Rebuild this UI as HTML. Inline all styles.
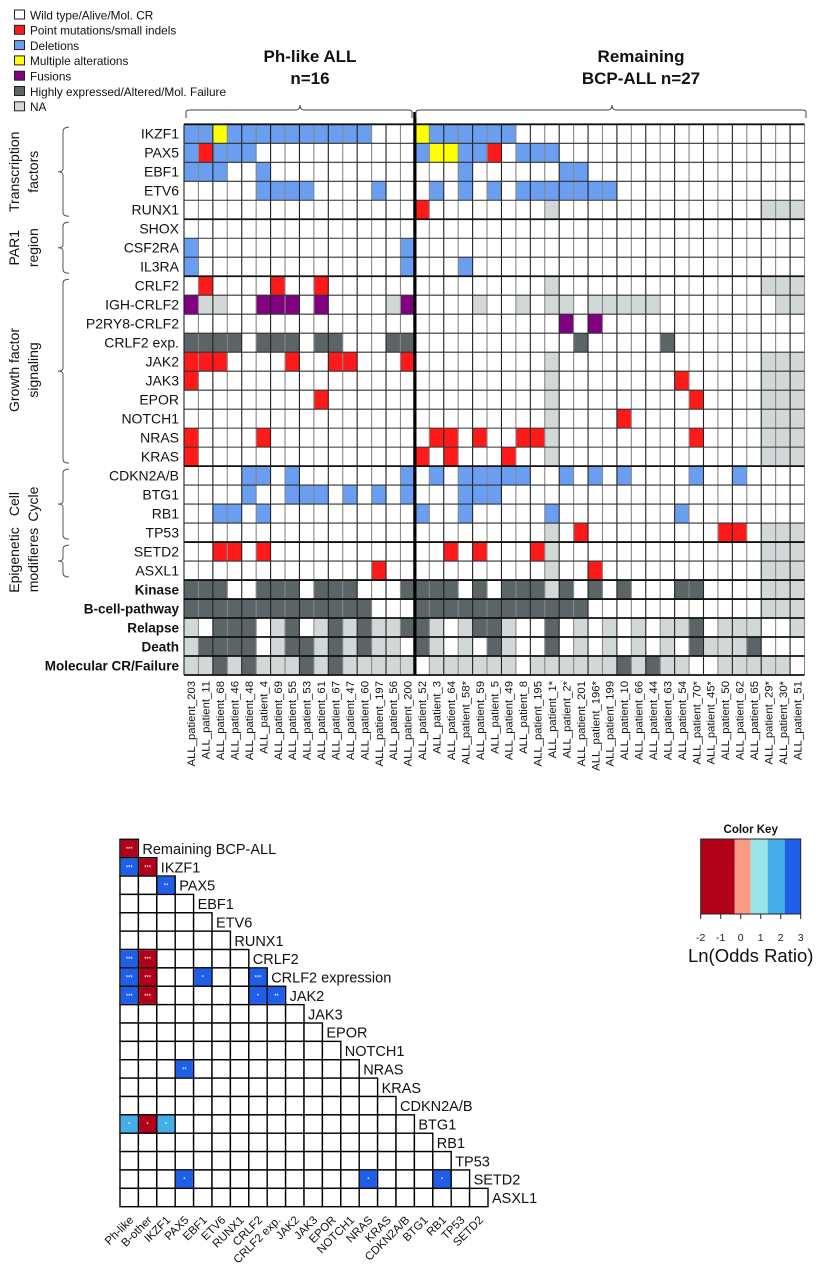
<!DOCTYPE html>
<html><head><meta charset="utf-8"><style>
html,body{margin:0;padding:0;background:#fff;}
svg{display:block;font-family:"Liberation Sans",Arial,sans-serif;}
</style></head><body>
<svg id="fig" width="819" height="1280" viewBox="0 0 819 1280" xmlns="http://www.w3.org/2000/svg"></svg>
<script>
// ---------- TOP HEATMAP DATA ----------
const geneRows = ["IKZF1","PAX5","EBF1","ETV6","RUNX1","SHOX","CSF2RA","IL3RA","CRLF2","IGH-CRLF2","P2RY8-CRLF2","CRLF2 exp.","JAK2","JAK3","EPOR","NOTCH1","NRAS","KRAS","CDKN2A/B","BTG1","RB1","TP53","SETD2","ASXL1","Kinase","B-cell-pathway","Relapse","Death","Molecular CR/Failure"];
const patientsPh = ["ALL_patient_203","ALL_patient_11","ALL_patient_68","ALL_patient_46","ALL_patient_48","ALL_patient_4","ALL_patient_69","ALL_patient_55","ALL_patient_53","ALL_patient_61","ALL_patient_67","ALL_patient_47","ALL_patient_60","ALL_patient_197","ALL_patient_56","ALL_patient_200"];
const patientsRem = ["ALL_patient_52","ALL_patient_3","ALL_patient_64","ALL_patient_58*","ALL_patient_59","ALL_patient_5","ALL_patient_49","ALL_patient_8","ALL_patient_195","ALL_patient_1*","ALL_patient_2*","ALL_patient_201","ALL_patient_196*","ALL_patient_199","ALL_patient_10","ALL_patient_66","ALL_patient_44","ALL_patient_63","ALL_patient_54","ALL_patient_70*","ALL_patient_45*","ALL_patient_50","ALL_patient_62","ALL_patient_65","ALL_patient_29*","ALL_patient_30*","ALL_patient_51"];
const statusPh = [
"BBYBBBBBBBBBBWWW","BRBBBWWWWWWWWWWW","BBBWWBWWWWWWWWWW","WWWWWBBBBWWWWBWW","WWWWWWWWWWWWWWWW",
"WWWWWWWWWWWWWWWW","BWWWWWWWWWWWWWWB","BWWWWWWWWWWWWWWB","WRWWWWRWWRWWWWWW","PLLWWPPPWPWWWWLP",
"WWWWWWWWWWWWWWWW","DDDDWDDDWDDWWWDD","RRRWWWWRWWRRWWWR","RWWWWWWWWWWWWWWW","WWWWWWWWWRWWWWWW",
"WWWWWWWWWWWWWWWW","RWWWWRWWWWWWWWWW","RWWWWWWWWWWWWWWW","WWWWBBWBWWWWWWWB","WWWWBWWBBBWBWBWB",
"WWBBWBWWWWWWWWWW","WWWWWWWWWWWWWWWW","WWRRWRWWWWWWWWWW","WWWWWWWWWWWWWRWW","DDDWWDDDWDDDWWWD",
"DDDDDDDDDDDDDWWW","LWDDDWLDWLDLDLLD","LDDDDWLDDLDLDLLW","LLDLDLLLDLDLLLLL"];
const statusRem = [
"YBBBBBBWWWWWWWWWWWWWWWWWWWW","BYYBBRWBBBWWWWWWWWWWWWWWWWW","WWWBWWWWWWBBWWWWWWWWWWWWWWW","WBWBWBWBBBBBBBWWWWWWWWWWWWW","RWWWWWWWWLWWWWWWWWWWWWWWLLL",
"WWWWWWWWWWWWWWWWWWWWWWWWWWW","WWWWWWWWWWWWWWWWWWWWWWWWWWW","WWWBWWWWWWWWWWWWWWWWWWWWWWW","WWWWWWWWWLWWWWWWWWWWWWWWLLL","WWWWLWWLWLLWLLLLLWWWWWWWWLL",
"WWWWWWWWWWPWPWWWWWWWWWWWWWW","WWWWWWWWWWWDWWWWWDWWWWWWWWW","WWWWWWWWWLWWWWWWWWWWWWWWLLL","WWWWWWWWWLWWWWWWWWRWWWWWLLL","WWWWWWWWWLWWWWWWWWWRWWWWLLL",
"WWWWWWWWWLWWWWRWWWWWWWWWLLL","WRRWRWWRRLWWWWWWWWWRWWWWLLL","RWRWWWRWWLWWWWWWWWWWWWWWLLL","WBWBBBBBWWBWBWBWWWWBWWBWWWW","WWWBBBWWWWWWWWWWWWWWWWWWWWW",
"BWWBWWWWWBWWWWWWWWBWWWWWWWW","WWWWWWWWWLWRWWWWWWWWWRRWLLL","WWRWRWWWRLWWWWWWWWWWWWWWLLL","WWWWWWWWWLWWRWWWWWWWWWWWLLL","DDDWDWDDDLDWDWDWWWDDWWWWLLL",
"DDDDDDDDDDDDWWWWWWWWWWWWLLL","DLWLDDLWWDWLWLWLWLLDWLLLWWL","DLWLWDLWWDWLWLWLWLWDLLLDWWW","WLLLLLLWLLLLLLDLDLLWWLLLLLW"];
const statusColors = {W:"#ffffff",R:"#ff1a1a",B:"#6a9ef0",Y:"#ffff00",P:"#800080",D:"#5b6466",L:"#d2d8d8"};
const legendLabels = ["Wild type/Alive/Mol. CR","Point mutations/small indels","Deletions","Multiple alterations","Fusions","Highly expressed/Altered/Mol. Failure","NA"];
const legendKeys = ["W","R","B","Y","P","D","L"];
const groupNames = [["Transcription","factors"],["PAR1","region"],["Growth factor","signaling"],["Cell","Cycle"],["Epigenetic","modifieres"]];
const groupStart = [0,5,8,18,22];
const groupEnd = [4,7,17,21,23];

// ---------- ODDS-RATIO MATRIX DATA ----------
const orRows = ["Remaining BCP-ALL","IKZF1","PAX5","EBF1","ETV6","RUNX1","CRLF2","CRLF2 expression","JAK2","JAK3","EPOR","NOTCH1","NRAS","KRAS","CDKN2A/B","BTG1","RB1","TP53","SETD2","ASXL1"];
const orCols = ["Ph-like","B-other","IKZF1","PAX5","EBF1","ETV6","RUNX1","CRLF2","CRLF2 exp.","JAK2","JAK3","EPOR","NOTCH1","NRAS","KRAS","CDKN2A/B","BTG1","RB1","TP53","SETD2"];
const sigRow = [0,1,1,2,6,6,7,7,7,7,8,8,8,8,12,15,15,15,18,18,18];
const sigCol = [0,0,1,2,0,1,0,1,4,7,0,1,7,8,3,0,1,2,3,13,17];
const sigValue = [-1.6,2.6,-1.6,2.6,2.6,-1.6,2.6,-1.6,2.6,2.6,2.6,-1.6,2.6,2.6,2.6,1.6,-1.6,1.6,2.6,2.6,2.6];
const sigStars = ["***","***","***","**","***","***","***","***","*","***","***","***","*","**","**","*","*","*","*","*","*"];
const keyBreaks = [-2,-0.3,0.5,1.35,2.2,3];
const keyColors = ["#b0001a","#f99a85","#98e4ea","#45aee8","#1f5fe8"];
const keyTicks = ["-2","-1","0","1","2","3"];

const NS="http://www.w3.org/2000/svg";
const svg=document.getElementById('fig');
function mk(tag,attrs,parent){const e=document.createElementNS(NS,tag);for(const k in attrs)e.setAttribute(k,attrs[k]);(parent||svg).appendChild(e);return e;}

// ---- top heatmap scales
const X0=184, X1=804.5, Y0=124.3, Y1=675;
const nCols=patientsPh.length+patientsRem.length;
const cw=(X1-X0)/nCols, rh=(Y1-Y0)/geneRows.length;
const xCol=i=>X0+i*cw, yRow=r=>Y0+r*rh;

const hm=mk('g',{});


geneRows.forEach((g,r)=>{
  const s=statusPh[r]+statusRem[r];
  for(let c=0;c<nCols;c++){
    const rc=mk('rect',{x:xCol(c),y:yRow(r),width:cw,height:rh,fill:statusColors[s[c]]||"#fff",stroke:"none"},hm);
    
    
  }
});
// grid lines
for(let c=0;c<=nCols;c++){
  mk('line',{x1:xCol(c),x2:xCol(c),y1:Y0,y2:Y1,stroke:(c%2?"#888":"#222"),"stroke-width":1.1},hm);
}
const thick=[0,5,8,18,22,24,25,26,27,28,29];
for(let r=0;r<=geneRows.length;r++){
  mk('line',{x1:X0,x2:X1,y1:yRow(r),y2:yRow(r),stroke:thick.includes(r)?"#111":"#333","stroke-width":thick.includes(r)?1.8:1.1},hm);
}
mk('line',{x1:xCol(16),x2:xCol(16),y1:112,y2:Y1,stroke:"#000","stroke-width":3.2},hm);

// row labels
geneRows.forEach((g,r)=>{
  const bold=r>=24;
  const t=mk('text',{x:179,y:yRow(r)+rh/2+4.8,"text-anchor":"end","font-size":bold?13.5:14,"font-weight":bold?"bold":"normal",fill:"#111"});
  t.textContent=g;
  
  
});
// column labels
patientsPh.concat(patientsRem).forEach((p,c)=>{
  const cx=xCol(c)+cw/2+4;
  const t=mk('text',{x:0,y:0,transform:`translate(${cx},681) rotate(-90)`,"text-anchor":"end","font-size":11.3,fill:"#111"});
  t.textContent=p;
  
  
});
// group brackets & labels
groupNames.forEach((gn,i)=>{
  const ya=yRow(groupStart[i])+3, yb=yRow(groupEnd[i]+1)-3, ym=(ya+yb)/2;
  const p=mk('path',{d:`M69 ${ya} Q63 ${ya} 63 ${ya+4} L63 ${ym-3} Q63 ${ym} 58 ${ym} Q63 ${ym} 63 ${ym+3} L63 ${yb-4} Q63 ${yb} 69 ${yb}`,fill:"none",stroke:"#555","stroke-width":1});
  
  
  let cy=ym; if(i===4) cy=560; if(i===2) cy=370;
  const t=mk('text',{transform:`translate(19,${cy}) rotate(-90)`,"text-anchor":"middle","font-size":14,fill:"#111"});
  const t1=mk('tspan',{x:0,y:0},t); t1.textContent=gn[0];
  const t2=mk('tspan',{x:0,y:19},t); t2.textContent=gn[1];
  
  
});
// top braces
function brace(xa,xb,xm,y,name){
  const p=mk('path',{d:`M${xa} ${y+8} L${xa} ${y+2} Q${xa} ${y} ${xa+4} ${y} L${xm-4} ${y} Q${xm} ${y} ${xm} ${y-5} Q${xm} ${y} ${xm+4} ${y} L${xb-4} ${y} Q${xb} ${y} ${xb} ${y+2} L${xb} ${y+8}`,fill:"none",stroke:"#444","stroke-width":1});
  
  
}
brace(186,412,300,110,'ph-like-brace');
brace(416,806,612,110,'remaining-brace');
[["Ph-like ALL",310,62],["n=16",310,84],["Remaining",641,62],["BCP-ALL n=27",641,84]].forEach((a,i)=>{
  const t=mk('text',{x:a[1],y:a[2],"text-anchor":"middle","font-size":17,"font-weight":"bold",fill:"#111"});
  t.textContent=a[0];
  
  
});
// legend
const lg=mk('g',{});


legendLabels.forEach((l,i)=>{
  const y=15.3*i+15;
  const r=mk('rect',{x:14.5,y:y-5,width:10,height:9,fill:statusColors[legendKeys[i]],stroke:"#222","stroke-width":1},lg);
  
  
  const t=mk('text',{x:30,y:y+4.3,"font-size":11.8,fill:"#111"},lg);
  t.textContent=l;
  
  
});

// ---- odds ratio matrix
const MX=120, MY=839.3, mw=18.4, mh=18.37;
const mcx=c=>MX+c*mw, mry=r=>MY+r*mh;
function keyColor(v){for(let i=0;i<keyColors.length;i++){if(v<keyBreaks[i+1])return keyColors[i];}return keyColors[keyColors.length-1];}
const om=mk('g',{});


orRows.forEach((rn,r)=>{
  for(let c=0;c<=r;c++){
    const rc=mk('rect',{x:mcx(c),y:mry(r),width:mw,height:mh,fill:"#fff",stroke:"#000","stroke-width":1.4},om);
    
    
  }
  const t=mk('text',{x:mcx(r+1)+4,y:mry(r)+mh/2+5.5,"font-size":14.5,fill:"#111"},om);
  t.textContent=rn;
  
  
});
sigRow.forEach((r,i)=>{
  const c=sigCol[i];
  const rc=mk('rect',{x:mcx(c)+0.7,y:mry(r)+0.7,width:mw-1.4,height:mh-1.4,fill:keyColor(sigValue[i])},om);
  
  
  const t=mk('text',{x:mcx(c)+mw/2,y:mry(r)+mh/2+2.5,"text-anchor":"middle","font-size":6,fill:"#fff"},om);
  t.textContent=sigStars[i];
  
  
});
orCols.forEach((cn,c)=>{
  const t=mk('text',{transform:`translate(${mcx(c)+mw/2+5},${MY+orRows.length*mh+14}) rotate(-45)`,"text-anchor":"end","font-size":11.5,fill:"#111"},om);
  t.textContent=cn;
  
  
});

// ---- color key
const KX=700.7, KU=20, KY=839, KH=75;
const kx=v=>KX+(v+2)*KU;
const ck=mk('g',{});


keyColors.forEach((col,i)=>{
  const r=mk('rect',{x:kx(keyBreaks[i]),y:KY,width:kx(keyBreaks[i+1])-kx(keyBreaks[i]),height:KH,fill:col},ck);
  
  
});
mk('rect',{x:kx(-2),y:KY,width:kx(3)-kx(-2),height:KH,fill:"none",stroke:"#222","stroke-width":1},ck);
mk('line',{x1:kx(-2),x2:kx(3),y1:KY+KH,y2:KY+KH,stroke:"#222"},ck);
keyTicks.forEach((tk,i)=>{
  const v=parseFloat(tk);
  mk('line',{x1:kx(v),x2:kx(v),y1:KY+KH,y2:KY+KH+5,stroke:"#222"},ck);
  const t=mk('text',{x:kx(v),y:KY+KH+27,"text-anchor":"middle","font-size":10.5,fill:"#222"},ck);
  t.textContent=tk;
  
  
});
const kt=mk('text',{x:kx(0.5),y:833,"text-anchor":"middle","font-size":11.5,"font-weight":"bold",fill:"#111"},ck);
kt.textContent="Color Key";


const kl=mk('text',{x:kx(0.5),y:962,"text-anchor":"middle","font-size":18.5,fill:"#111"},ck);
kl.textContent="Ln(Odds Ratio)";


</script>
</body></html>
